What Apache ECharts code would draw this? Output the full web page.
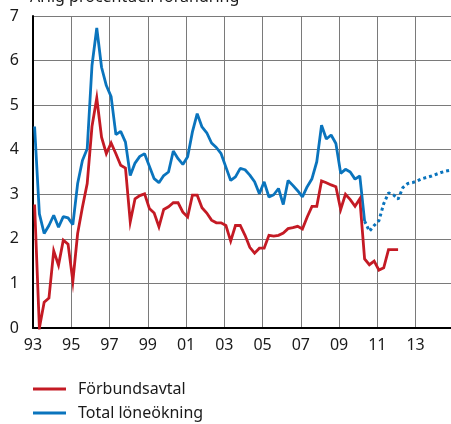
<!DOCTYPE html>
<html>
<head>
<meta charset="utf-8">
<script src="https://cdn.jsdelivr.net/npm/echarts@6/dist/echarts.min.js"></script>
<style>
html,body{margin:0;padding:0;background:#fff;}
#chart{width:451px;height:424px;}
</style>
</head>
<body>
<div id="chart"></div>
<script>
// Quarterly data, first value = 1993 Q1
const startYear = 1993;
const yTicks = [0, 1, 2, 3, 4, 5, 6, 7];
const xTickLabels = ['93','95','97','99','01','03','05','07','09','11','13'];
const seriesNames = ['Förbundsavtal', 'Total löneökning'];
const titleText = 'Årlig procentuell förändring';

const forbundsavtal = [
  2.77, 0.00, 0.58, 0.67, 1.73, 1.41, 1.97, 1.88,
  1.05, 2.12, 2.71, 3.24, 4.52, 5.16, 4.28, 3.91,
  4.15, 3.91, 3.65, 3.59, 2.38, 2.90, 2.97, 3.01,
  2.68, 2.58, 2.27, 2.66, 2.72, 2.81, 2.81, 2.60,
  2.49, 2.98, 2.98, 2.70, 2.58, 2.42, 2.36, 2.36,
  2.30, 1.95, 2.30, 2.30, 2.08, 1.81, 1.68, 1.79,
  1.79, 2.08, 2.06, 2.08, 2.13, 2.23, 2.25, 2.28,
  2.22, 2.49, 2.73, 2.73, 3.30, 3.26, 3.21, 3.17,
  2.66, 3.00, 2.88, 2.73, 2.90, 1.55, 1.42, 1.50,
  1.30, 1.35, 1.76, 1.76, 1.76
];

const totalLoneokning = [
  4.52, 2.56, 2.12, 2.30, 2.53, 2.26, 2.50, 2.47,
  2.32, 3.24, 3.76, 4.02, 5.89, 6.73, 5.85, 5.44,
  5.19, 4.34, 4.41, 4.17, 3.42, 3.70, 3.85, 3.91,
  3.63, 3.35, 3.26, 3.42, 3.50, 3.97, 3.80, 3.67,
  3.84, 4.40, 4.81, 4.51, 4.38, 4.15, 4.05, 3.91,
  3.61, 3.31, 3.39, 3.58, 3.55, 3.43, 3.28, 3.01,
  3.28, 2.94, 2.99, 3.13, 2.77, 3.31, 3.20, 3.08,
  2.94, 3.17, 3.35, 3.73, 4.55, 4.24, 4.33, 4.14,
  3.47, 3.56, 3.50, 3.34, 3.41, 2.40
];

// Forecast (dotted) starts at quarter index 69 (2010 Q2)
const prognosStartIndex = 69;
const totalPrognos = [
  2.40, 2.17, 2.30, 2.41, 2.79, 3.03, 2.99, 2.89,
  3.15, 3.24, 3.26, 3.30, 3.35, 3.38, 3.41, 3.45,
  3.49, 3.52, 3.54
];

function toPairs(arr, offset) {
  return arr.map((v, i) => [startYear + (i + offset) / 4 + 1 / 12, v]);
}

const red = '#c41a24';
const blue = '#0a74bd';
const font = 'Noto Sans';

const chart = echarts.init(document.getElementById('chart'), null, {renderer: 'canvas'});
chart.setOption({
  animation: false,
  backgroundColor: '#fff',
  textStyle: {fontFamily: font},
  graphic: [{
    type: 'text',
    x: 30,
    y: 5,
    style: {
      text: titleText,
      font: '16px "Noto Sans"',
      fill: '#1a1a1a',
      textVerticalAlign: 'bottom',
      verticalAlign: 'bottom'
    }
  }],
  grid: {left: 33, right: 0, top: 16, bottom: 96, containLabel: false},
  legend: {
    orient: 'vertical',
    left: 33,
    top: 379,
    padding: 0,
    icon: 'rect',
    itemWidth: 33,
    itemHeight: 3,
    itemGap: 4,
    data: seriesNames,
    textStyle: {fontFamily: font, fontSize: 16, color: '#1a1a1a', lineHeight: 20, padding: [0, 0, 0, 7]}
  },
  xAxis: {
    type: 'value',
    min: startYear,
    max: 2014.85,
    interval: 2,
    axisLine: {show: true, onZero: false, lineStyle: {color: '#000', width: 2}},
    axisTick: {show: false},
    splitLine: {show: true, lineStyle: {color: '#7a7a7a', width: 1}},
    axisLabel: {
      fontFamily: font, fontSize: 16, color: '#1a1a1a', margin: 9,
      showMaxLabel: false,
      formatter: function (v) {
        const idx = Math.round((v - startYear) / 2);
        return xTickLabels[idx] !== undefined && Math.abs(v - (startYear + idx * 2)) < 1e-6 ? xTickLabels[idx] : '';
      }
    }
  },
  yAxis: {
    type: 'value',
    min: yTicks[0],
    max: yTicks[yTicks.length - 1],
    interval: 1,
    axisLine: {show: true, lineStyle: {color: '#000', width: 2}},
    axisTick: {show: false},
    splitLine: {show: true, lineStyle: {color: '#7a7a7a', width: 1}},
    axisLabel: {fontFamily: font, fontSize: 16, color: '#1a1a1a', margin: 14}
  },
  series: [
    {
      name: seriesNames[0],
      type: 'line',
      data: toPairs(forbundsavtal, 0),
      symbol: 'none',
      color: red,
      lineStyle: {color: red, width: 2.8, join: 'miter'},
      z: 3
    },
    {
      name: seriesNames[1],
      type: 'line',
      data: toPairs(totalLoneokning, 0),
      symbol: 'none',
      color: blue,
      lineStyle: {color: blue, width: 2.8},
      z: 2
    },
    {
      name: 'Total löneökning prognos',
      type: 'line',
      data: toPairs(totalPrognos, prognosStartIndex),
      symbol: 'none',
      color: blue,
      lineStyle: {color: blue, width: 3, type: [3, 3], cap: 'butt'},
      z: 2
    }
  ]
});
</script>
</body>
</html>
